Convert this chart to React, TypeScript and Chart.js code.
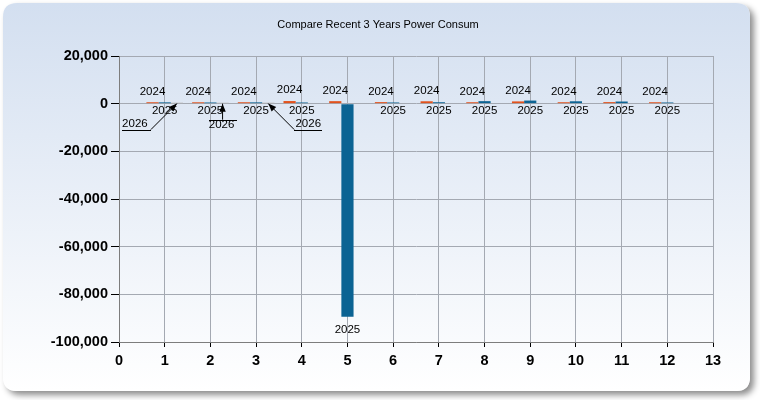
import React, { useEffect, useRef } from 'react';
import { Chart, registerables } from 'chart.js';

Chart.register(...registerables);

// ---------- data ----------
const titleText = 'Compare Recent 3 Years Power Consum';
const months = [1, 2, 3, 4, 5, 6, 7, 8, 9, 10, 11, 12];
const seriesNames = ['2024', '2025', '2026'];
const values2024 = [600, 580, 600, 1100, 1050, 650, 1000, 600, 950, 600, 650, 600];
const values2025 = [550, 500, 550, 500, -89400, 500, 600, 1050, 1300, 1000, 900, 500];
const values2026 = [450, 420, 450, 0, 0, 0, 0, 0, 0, 0, 0, 0];
const yMin = -100000;
const yMax = 20000;
const yStep = 20000;
const xMin = 0;
const xMax = 13;

// ---------- style ----------
const FONT = '"Liberation Sans", Arial, sans-serif';
const colors = ['#e2521d', '#0b6393', '#c0c0c0'];
const gridColor = '#a4a9b2';
const axisColor = '#7d7d7d';
// callout label geometry for the third series (relative to the bar tip)
const callouts = [
  { tx: -42, ty: 21, ux1: -55, ux2: -26, uy: 27, lx: -26, ly: 27 },
  { tx: -1, ty: 22, ux1: -14, ux2: 14, uy: 17, lx: 0, ly: 17 },
  { tx: 40, ty: 21, ux1: 26, ux2: 54, uy: 27, lx: 26, ly: 27 },
];

function roundRect(ctx: CanvasRenderingContext2D, x: number, y: number, w: number, h: number, r: number) {
  ctx.beginPath();
  ctx.moveTo(x + r, y);
  ctx.lineTo(x + w - r, y);
  ctx.quadraticCurveTo(x + w, y, x + w, y + r);
  ctx.lineTo(x + w, y + h - r);
  ctx.quadraticCurveTo(x + w, y + h, x + w - r, y + h);
  ctx.lineTo(x + r, y + h);
  ctx.quadraticCurveTo(x, y + h, x, y + h - r);
  ctx.lineTo(x, y + r);
  ctx.quadraticCurveTo(x, y, x + r, y);
  ctx.closePath();
}

const panelPlugin = {
  id: 'panel',
  beforeDraw(chart: any) {
    const ctx: CanvasRenderingContext2D = chart.ctx;
    const W = chart.width;
    const H = chart.height;
    ctx.save();
    ctx.fillStyle = '#ffffff';
    ctx.fillRect(0, 0, W, H);
    const px = 3, py = 3, pw = 747, ph = 388;
    ctx.save();
    ctx.shadowColor = 'rgba(0,0,0,0.45)';
    ctx.shadowBlur = 6;
    ctx.shadowOffsetX = 4;
    ctx.shadowOffsetY = 4;
    roundRect(ctx, px, py, pw, ph, 14);
    ctx.fillStyle = '#ffffff';
    ctx.fill();
    ctx.restore();
    const g = ctx.createLinearGradient(0, py, 0, py + ph);
    g.addColorStop(0, '#d3dff0');
    g.addColorStop(1, '#ffffff');
    roundRect(ctx, px, py, pw, ph, 14);
    ctx.fillStyle = g;
    ctx.fill();
    ctx.fillStyle = '#000000';
    ctx.font = `11px ${FONT}`;
    ctx.textAlign = 'center';
    ctx.textBaseline = 'middle';
    ctx.fillText(titleText, 378, 25);
    ctx.restore();
  },
};

function arrowHead(ctx: CanvasRenderingContext2D, fx: number, fy: number, tx: number, ty: number) {
  const ang = Math.atan2(ty - fy, tx - fx);
  const len = 8;
  const hw = 3.2;
  const bx = tx - len * Math.cos(ang);
  const by = ty - len * Math.sin(ang);
  ctx.beginPath();
  ctx.moveTo(tx, ty);
  ctx.lineTo(bx + hw * Math.sin(ang), by - hw * Math.cos(ang));
  ctx.lineTo(bx - hw * Math.sin(ang), by + hw * Math.cos(ang));
  ctx.closePath();
  ctx.fill();
}

const labelPlugin = {
  id: 'barLabels',
  afterDatasetsDraw(chart: any) {
    const ctx: CanvasRenderingContext2D = chart.ctx;
    ctx.save();
    ctx.font = `11.5px ${FONT}`;
    ctx.fillStyle = '#000000';
    ctx.strokeStyle = '#000000';
    ctx.lineWidth = 1;
    ctx.textAlign = 'center';
    chart.data.datasets.forEach((ds: any, di: number) => {
      const meta = chart.getDatasetMeta(di);
      meta.data.forEach((el: any, i: number) => {
        const v = ds.data[i].y;
        const { x, y, base } = el.getProps(['x', 'y', 'base'], true);
        const top = Math.min(y, base);
        const bottom = Math.max(y, base);
        if (di === 0) {
          ctx.textBaseline = 'bottom';
          ctx.fillText(ds.label, x, top - 5);
        } else if (di === 1) {
          ctx.textBaseline = 'top';
          ctx.fillText(ds.label, x, bottom + (v < 0 ? 7 : 2));
        } else if (v !== 0) {
          const c = callouts[i % callouts.length];
          const tipX = x;
          const tipY = top;
          ctx.textBaseline = 'middle';
          ctx.fillText(ds.label, tipX + c.tx, tipY + c.ty);
          ctx.beginPath();
          ctx.moveTo(Math.round(tipX + c.ux1), Math.round(tipY + c.uy) + 0.5);
          ctx.lineTo(Math.round(tipX + c.ux2), Math.round(tipY + c.uy) + 0.5);
          ctx.stroke();
          const fx = tipX + c.lx;
          const fy = tipY + c.ly;
          ctx.beginPath();
          ctx.moveTo(fx, fy);
          ctx.lineTo(tipX, tipY + 1);
          ctx.stroke();
          arrowHead(ctx, fx, fy, tipX, tipY + 1);
        }
      });
    });
    ctx.restore();
  },
};

export default function App() {
  const ref = useRef<HTMLCanvasElement | null>(null);
  useEffect(() => {
    document.body.style.margin = '0';
    const canvas = ref.current;
    if (!canvas) return;
    const allSeries = [values2024, values2025, values2026];
    const chart = new Chart(canvas, {
      type: 'bar',
      data: {
        datasets: allSeries.map((vals, si) => ({
          label: seriesNames[si],
          data: months.map((m, i) => ({ x: m, y: vals[i] })),
          backgroundColor: colors[si],
          borderWidth: 0,
          categoryPercentage: 0.8,
          barPercentage: 1.0,
        })),
      },
      options: {
        responsive: false,
        animation: false,
        devicePixelRatio: 1,
        layout: { padding: { left: 0, right: 47, top: 56, bottom: 0 } },
        plugins: {
          legend: { display: false },
          title: { display: false },
          tooltip: { enabled: false },
        },
        scales: {
          x: {
            type: 'linear',
            min: xMin,
            max: xMax,
            offset: false,
            grid: {
              color: gridColor,
              tickColor: '#000000',
              tickLength: 5,
              offset: false,
            },
            border: { color: axisColor, width: 1 },
            ticks: {
              stepSize: 1,
              color: '#000000',
              padding: 5,
              maxRotation: 0,
              font: { family: FONT, size: 14.5, weight: 'bold' },
            },
            afterFit: (s: any) => {
              s.height = 58;
            },
          },
          y: {
            type: 'linear',
            min: yMin,
            max: yMax,
            grid: {
              color: gridColor,
              tickColor: '#000000',
              tickLength: 8,
            },
            border: { color: axisColor, width: 1 },
            ticks: {
              stepSize: yStep,
              color: '#000000',
              padding: 3,
              font: { family: FONT, size: 14.5, weight: 'bold' },
              callback: (v: any) => Number(v).toLocaleString('en-US'),
            },
            afterFit: (s: any) => {
              s.width = 119;
            },
          },
        },
      },
      plugins: [panelPlugin, labelPlugin],
    } as any);
    return () => chart.destroy();
  }, []);
  return (
    <div style={{ width: 760, height: 400 }}>
      <canvas ref={ref} width={760} height={400} style={{ display: 'block' }} />
    </div>
  );
}
